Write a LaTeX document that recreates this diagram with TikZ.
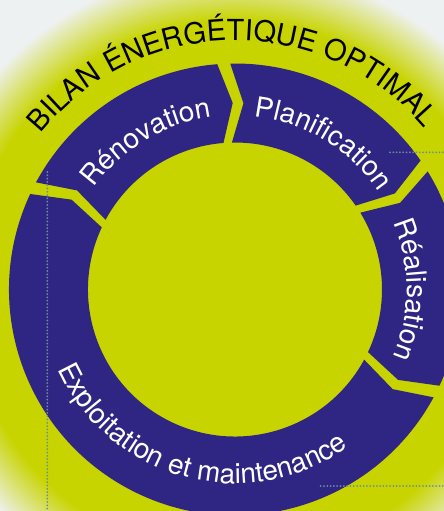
\documentclass[tikz,border=0pt]{standalone}
\usepackage{fontspec}
\setmainfont{TeX Gyre Heros}
\usetikzlibrary{decorations.text}

\definecolor{pagebg}{HTML}{EEF1F1}
\definecolor{limebg}{HTML}{C8D400}
\definecolor{ringblue}{HTML}{2F2583}
\definecolor{dotgray}{HTML}{6F8E9A}
\pgfdeclareradialshading{glowdisc}{\pgfpointorigin}{color(0bp)=(limebg); color(16.8bp)=(limebg); color(20.2bp)=(pagebg); color(50bp)=(pagebg)}
\newcommand\titlesize{\fontsize{29}{29}\selectfont}
\newcommand\labelsize{\fontsize{28}{28}\selectfont}

\begin{document}
\begin{tikzpicture}[x=1pt,y=1pt,
    guide/.style={dotgray, line width=2pt, dash pattern=on 0pt off 3.3pt, line cap=round},
    ringlabel/.style={decorate, decoration={text along path, text align=center, text color=white, text={|\labelsize|#1}}}]
        \coordinate (O) at (0,0);
        \useasboundingbox (-235,-221.5) rectangle (209,289.5);
        \fill[pagebg] (-235,-221.5) rectangle (209,289.5);
        \clip (-235,-221.5) rectangle (209,289.5);
        \shade[shading=glowdisc] (O) circle (400);

        \foreach \s/\e in {151.7/94.5, 91.2/34.8, 31.5/-25.2, -28.5/-205}
            \fill[ringblue] (\s:226) arc[start angle=\s, end angle=\e, radius=226] -- ({\e-3.8}:186.5) -- (\e:147)
                arc[start angle=\e, end angle=\s, radius=147] -- ({\s-3.8}:186.5) -- cycle;

        \path[decorate, decoration={text along path, text align=center, text={|\titlesize|BILAN ÉNERGÉTIQUE OPTIMAL}}]
            (171.6:249) arc[start angle=171.6, end angle=10, radius=249];
        \path[ringlabel=Rénovation] (170:174) arc[start angle=170, end angle=72, radius=174];
        \path[ringlabel=Planification] (108:174) arc[start angle=108, end angle=10, radius=174];
        \path[ringlabel=Réalisation] (49:172) arc[start angle=49, end angle=-49, radius=172];
        \path[ringlabel=Exploitation et maintenance] (189:194) arc[start angle=189, end angle=321, radius=194];

        \coordinate (g1) at (-187.7,117.5);
        \coordinate (g2) at (-187.7,-221.5);
        \coordinate (g3) at (155,137.2);
        \coordinate (g4) at (209,137.2);
        \coordinate (g5) at (85.7,-196.5);
        \coordinate (g6) at (209,-196.5);
        \draw[guide] (g1) -- (g2);
        \draw[guide] (g3) -- (g4);
        \draw[guide] (g5) -- (g6);
    \end{tikzpicture}
\end{document}
